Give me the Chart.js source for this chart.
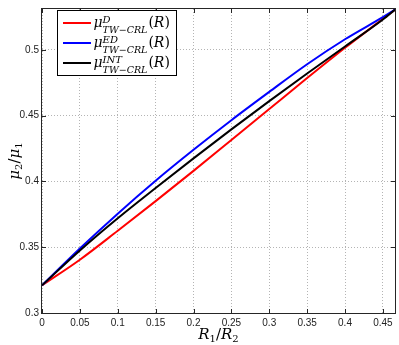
<!DOCTYPE html>
<html>
<head>
<meta charset="utf-8">
<script src="https://cdn.jsdelivr.net/npm/chart.js@4.4.0/dist/chart.umd.min.js"></script>
<style>
  html, body { margin: 0; padding: 0; background: #fff; }
  canvas { display: block; }
</style>
</head>
<body>
<canvas id="muChart" width="399" height="345"></canvas>
<script>
// values
const ratio = [0, 0.05, 0.1, 0.15, 0.2, 0.25, 0.3, 0.35, 0.4, 0.45, 0.466];
const muD   = [0.321, 0.3405, 0.3625, 0.385, 0.408, 0.4315, 0.455, 0.4785, 0.5015, 0.5235, 0.5305];
const muED  = [0.321, 0.349, 0.3755, 0.4005, 0.424, 0.4465, 0.468, 0.489, 0.508, 0.5248, 0.5305];
const muINT = [0.321, 0.3475, 0.372, 0.395, 0.4175, 0.4395, 0.461, 0.482, 0.5025, 0.523, 0.5305];

const xTicks = [0, 0.05, 0.1, 0.15, 0.2, 0.25, 0.3, 0.35, 0.4, 0.45];
const yTicks = [0.3, 0.35, 0.4, 0.45, 0.5];
const xRange = [0, 0.466];
const yRange = [0.3, 0.531];

const legendSup = ['D', 'ED', 'INT'];
const lineColors = ['#ff0000', '#0000ff', '#000000'];

const MATH = '"DejaVu Serif"';
const fmt = v => String(+v.toFixed(2));

function points(ys) {
    return ratio.map((r, i) => ({ x: r, y: ys[i] }));
}

function setFont(ctx, size, italic) {
    ctx.font = (italic ? 'italic ' : '') + size + 'px ' + MATH;
}

// draws a row of [text, size, italic, dy] pieces starting at x
function drawRun(ctx, parts, x, y) {
    parts.forEach(([t, size, italic, dy]) => {
        setFont(ctx, size, italic);
        ctx.fillText(t, x, y + (dy || 0));
        x += ctx.measureText(t).width;
    });
    return x;
}

function runWidth(ctx, parts) {
    let w = 0;
    parts.forEach(([t, size, italic]) => {
        setFont(ctx, size, italic);
        w += ctx.measureText(t).width;
    });
    return w;
}

const decorations = {
    id: 'decorations',
    afterDraw(chart) {
        const { ctx, chartArea: a, scales: { x, y } } = chart;
        ctx.save();

        // inward ticks on all four sides
        ctx.strokeStyle = '#262626';
        ctx.lineWidth = 1;
        ctx.beginPath();
        xTicks.forEach(v => {
            const px = Math.round(x.getPixelForValue(v)) + 0.5;
            ctx.moveTo(px, a.bottom); ctx.lineTo(px, a.bottom - 4);
            ctx.moveTo(px, a.top); ctx.lineTo(px, a.top + 4);
        });
        yTicks.forEach(v => {
            const py = Math.round(y.getPixelForValue(v)) + 0.5;
            ctx.moveTo(a.left, py); ctx.lineTo(a.left + 4, py);
            ctx.moveTo(a.right, py); ctx.lineTo(a.right - 4, py);
        });
        ctx.stroke();
        ctx.strokeRect(Math.round(a.left) - 0.5, Math.round(a.top) - 0.5,
                       Math.round(a.right - a.left) + 1, Math.round(a.bottom - a.top) + 1);

        ctx.fillStyle = '#000';
        ctx.textBaseline = 'alphabetic';

        // x title R1/R2
        const xt = [['R', 15, true], ['1', 10, false, 3], ['/', 15, false], ['R', 15, true], ['2', 10, false, 3]];
        const cx = (a.left + a.right) / 2;
        drawRun(ctx, xt, cx - runWidth(ctx, xt) / 2, 339);

        // y title mu2/mu1
        const yt = [['\u03bc', 15, true], ['2', 10, false, 3], ['/', 15, false], ['\u03bc', 15, true], ['1', 10, false, 3]];
        ctx.save();
        ctx.translate(19, (a.top + a.bottom) / 2);
        ctx.rotate(-Math.PI / 2);
        drawRun(ctx, yt, -runWidth(ctx, yt) / 2, 0);
        ctx.restore();

        // legend box
        const bx = 57.5, by = 10.5, bw = 119, bh = 65;
        ctx.fillStyle = '#fff';
        ctx.fillRect(bx, by, bw, bh);
        ctx.strokeStyle = '#000';
        ctx.strokeRect(bx, by, bw, bh);
        legendSup.forEach((sup, i) => {
            const ly = by + 12.5 + i * 20;
            ctx.strokeStyle = lineColors[i];
            ctx.lineWidth = 2;
            ctx.beginPath();
            ctx.moveTo(bx + 5.5, ly); ctx.lineTo(bx + 33.5, ly);
            ctx.stroke();
            ctx.fillStyle = '#000';
            let tx = drawRun(ctx, [['\u03bc', 14, true]], bx + 36, ly + 4);
            setFont(ctx, 10, true);
            ctx.fillText(sup, tx, ly);
            const supW = ctx.measureText(sup).width;
            const subEnd = drawRun(ctx, [['TW', 9.5, true], ['\u2212', 9.5, false], ['CRL', 9.5, true]], tx, ly + 10);
            tx = Math.max(tx + supW, subEnd) + 1;
            drawRun(ctx, [['(', 14, false], ['R', 14, true], [')', 14, false]], tx, ly + 4);
        });

        ctx.restore();
    }
};

const series = [
    { data: muD, color: lineColors[0], order: 2 },
    { data: muED, color: lineColors[1], order: 1 },
    { data: muINT, color: lineColors[2], order: 0 }
];

new Chart(document.getElementById('muChart').getContext('2d'), {
    type: 'line',
    data: {
        datasets: series.map((s, i) => ({
            label: 'mu' + legendSup[i],
            data: points(s.data),
            borderColor: s.color,
            borderWidth: 2,
            pointRadius: 0,
            cubicInterpolationMode: 'monotone',
            order: s.order
        }))
    },
    options: {
        responsive: false,
        animation: false,
        layout: { padding: { left: 0, right: 4, top: 1, bottom: 0 } },
        plugins: { legend: { display: false }, tooltip: { enabled: false } },
        scales: {
            x: {
                type: 'linear',
                min: xRange[0],
                max: xRange[1],
                afterBuildTicks: s => { s.ticks = xTicks.map(v => ({ value: v })); },
                afterFit: s => { s.height = 32; },
                grid: { color: '#b4b4b4', drawTicks: false },
                border: { display: false, dash: [1, 2] },
                ticks: {
                    padding: 4,
                    color: '#222',
                    font: { family: '"Liberation Sans"', size: 10 },
                    maxRotation: 0,
                    callback: v => fmt(v)
                }
            },
            y: {
                min: yRange[0],
                max: yRange[1],
                afterBuildTicks: s => { s.ticks = yTicks.map(v => ({ value: v })); },
                afterFit: s => { s.width = 42; },
                grid: { color: '#b4b4b4', drawTicks: false },
                border: { display: false, dash: [1, 2] },
                ticks: {
                    padding: 3,
                    color: '#222',
                    font: { family: '"Liberation Sans"', size: 10 },
                    callback: v => fmt(v)
                }
            }
        }
    },
    plugins: [decorations]
});
</script>
</body>
</html>
